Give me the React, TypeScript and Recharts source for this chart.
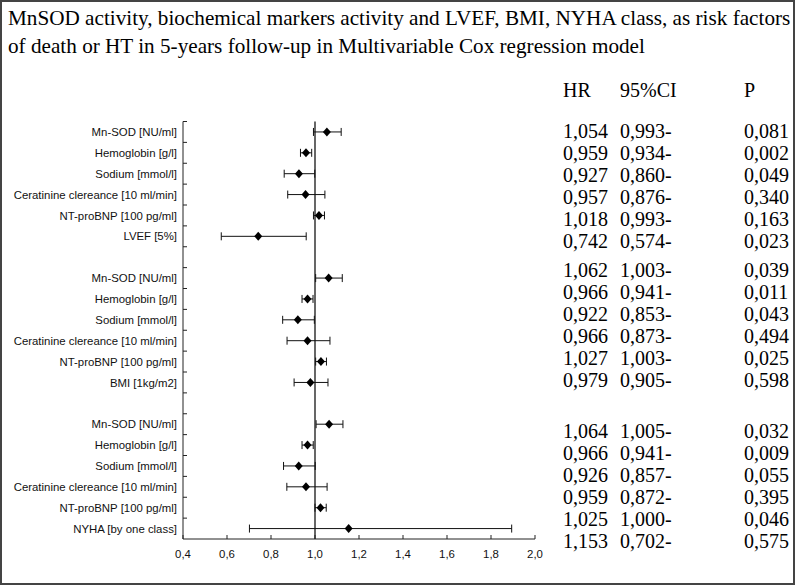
import React from 'react'
import {
  ComposedChart,
  Scatter,
  ErrorBar,
  XAxis,
  YAxis,
  ReferenceLine,
} from 'recharts'

// model 1: with LVEF
const lvefFactors = ['Mn-SOD [NU/ml]', 'Hemoglobin [g/l]', 'Sodium [mmol/l]', 'Ceratinine clereance [10 ml/min]', 'NT-proBNP [100 pg/ml]', 'LVEF [5%]']
const lvefHr = [1.054, 0.959, 0.927, 0.957, 1.018, 0.742]
const lvefLow = [0.993, 0.934, 0.86, 0.876, 0.993, 0.574]
const lvefHigh = [1.119, 0.985, 0.999, 1.045, 1.043, 0.96]
const lvefP = [0.081, 0.002, 0.049, 0.34, 0.163, 0.023]

// model 2: with BMI
const bmiFactors = ['Mn-SOD [NU/ml]', 'Hemoglobin [g/l]', 'Sodium [mmol/l]', 'Ceratinine clereance [10 ml/min]', 'NT-proBNP [100 pg/ml]', 'BMI [1kg/m2]']
const bmiHr = [1.062, 0.966, 0.922, 0.966, 1.027, 0.979]
const bmiLow = [1.003, 0.941, 0.853, 0.873, 1.003, 0.905]
const bmiHigh = [1.124, 0.991, 0.997, 1.068, 1.052, 1.059]
const bmiP = [0.039, 0.011, 0.043, 0.494, 0.025, 0.598]

// model 3: with NYHA
const nyhaFactors = ['Mn-SOD [NU/ml]', 'Hemoglobin [g/l]', 'Sodium [mmol/l]', 'Ceratinine clereance [10 ml/min]', 'NT-proBNP [100 pg/ml]', 'NYHA [by one class]']
const nyhaHr = [1.064, 0.966, 0.926, 0.959, 1.025, 1.153]
const nyhaLow = [1.005, 0.941, 0.857, 0.872, 1.0, 0.702]
const nyhaHigh = [1.127, 0.992, 1.001, 1.055, 1.051, 1.894]
const nyhaP = [0.032, 0.009, 0.055, 0.395, 0.046, 0.575]

const xTicks = [0.4, 0.6, 0.8, 1.0, 1.2, 1.4, 1.6, 1.8, 2.0]

const titleLines = [
  'MnSOD activity, biochemical markers activity and LVEF, BMI, NYHA class, as risk factors',
  'of death or HT in 5-years follow-up in Multivariable Cox regression model',
]

const models = [
  { factors: lvefFactors, hr: lvefHr, low: lvefLow, high: lvefHigh, p: lvefP },
  { factors: bmiFactors, hr: bmiHr, low: bmiLow, high: bmiHigh, p: bmiP },
  { factors: nyhaFactors, hr: nyhaHr, low: nyhaLow, high: nyhaHigh, p: nyhaP },
]

// one row per factor, with a blank row between models
const rows: any[] = []
models.forEach((m, mi) => {
  if (mi > 0) rows.push({ id: String(rows.length), label: '', hr: null, err: null })
  m.factors.forEach((f, i) => {
    rows.push({
      id: String(rows.length),
      label: f,
      hr: m.hr[i],
      err: [m.hr[i] - m.low[i], m.high[i] - m.hr[i]],
    })
  })
})

const fmt = (v: number, d = 3) => v.toFixed(d).replace('.', ',')

const SERIF = '"Liberation Serif", "Times New Roman", serif'
const SANS = '"Liberation Sans", Arial, sans-serif'
const Y_TICK_MARGIN = 6

const RowTick = (props: any) => {
  const { x, y, payload } = props
  const axisX = x + Y_TICK_MARGIN
  const top = y - (payload.offset || 0)
  const row = rows[Number(payload.value)]
  return (
    <g>
      <line x1={axisX} x2={axisX + 4} y1={top} y2={top} stroke="#222" />
      {row && row.label ? (
        <text x={x} y={y} dy="0.36em" textAnchor="end" fontFamily={SANS} fontSize={11.4} fill="#111">
          {row.label}
        </text>
      ) : null}
    </g>
  )
}

const Diamond = (props: any) => {
  const { cx, cy, payload } = props
  if (cx == null || cy == null || payload == null || payload.hr == null) return null
  return <polygon points={`${cx},${cy - 4.5} ${cx + 4},${cy} ${cx},${cy + 4.5} ${cx - 4},${cy}`} fill="#000" />
}

const groupTop = [138, 277, 438]
const rowStep = 22
const colHr = 563
const colCi = 620
const colP = 744

export default function App() {
  return (
    <div style={{ position: 'absolute', left: 0, top: 0, width: 798, height: 586, background: '#fff' }}>
      <ComposedChart
        width={798}
        height={586}
        data={rows}
        layout="vertical"
        margin={{ top: 121.5, right: 263, bottom: 17, left: 0 }}
      >
        <XAxis
          type="number"
          domain={[0.4, 2.0]}
          ticks={xTicks}
          tickFormatter={(v: number) => fmt(v, 1)}
          tickSize={-4}
          tickMargin={15}
          height={30}
          stroke="#222"
          tick={{ fill: '#111', fontFamily: SANS, fontSize: 11.4 }}
          interval={0}
        />
        <YAxis
          type="category"
          dataKey="id"
          scale="band"
          width={183}
          tickLine={false}
          tickSize={0}
          tickMargin={Y_TICK_MARGIN}
          interval={0}
          stroke="#222"
          tick={<RowTick />}
        />
        <ReferenceLine x={1} stroke="#000" strokeWidth={1.2} />
        <Scatter dataKey="hr" shape={<Diamond />} isAnimationActive={false}>
          <ErrorBar dataKey="err" direction="x" width={4} stroke="#111" strokeWidth={1} />
        </Scatter>
      </ComposedChart>
      <svg width={798} height={586} style={{ position: 'absolute', left: 0, top: 0, pointerEvents: 'none' }}>
        <rect x={1} y={1} width={793} height={583} fill="none" stroke="#444" strokeWidth={2} />
        {titleLines.map((t, i) => (
          <text key={i} x={8} y={25 + i * 28} fontFamily={SERIF} fontSize={21.2} fill="#000">
            {t}
          </text>
        ))}
        <g fontFamily={SERIF} fontSize={20} fill="#000">
          <text x={colHr} y={97}>HR</text>
          <text x={colCi} y={97}>95%CI</text>
          <text x={colP} y={97}>P</text>
          {models.map((m, mi) =>
            m.hr.map((h, i) => {
              const y = groupTop[mi] + i * rowStep
              return (
                <g key={`${mi}-${i}`}>
                  <text x={colHr} y={y}>{fmt(h)}</text>
                  <text x={colCi} y={y}>{fmt(m.low[i])}-</text>
                  <text x={colP} y={y}>{fmt(m.p[i])}</text>
                </g>
              )
            })
          )}
        </g>
      </svg>
    </div>
  )
}
